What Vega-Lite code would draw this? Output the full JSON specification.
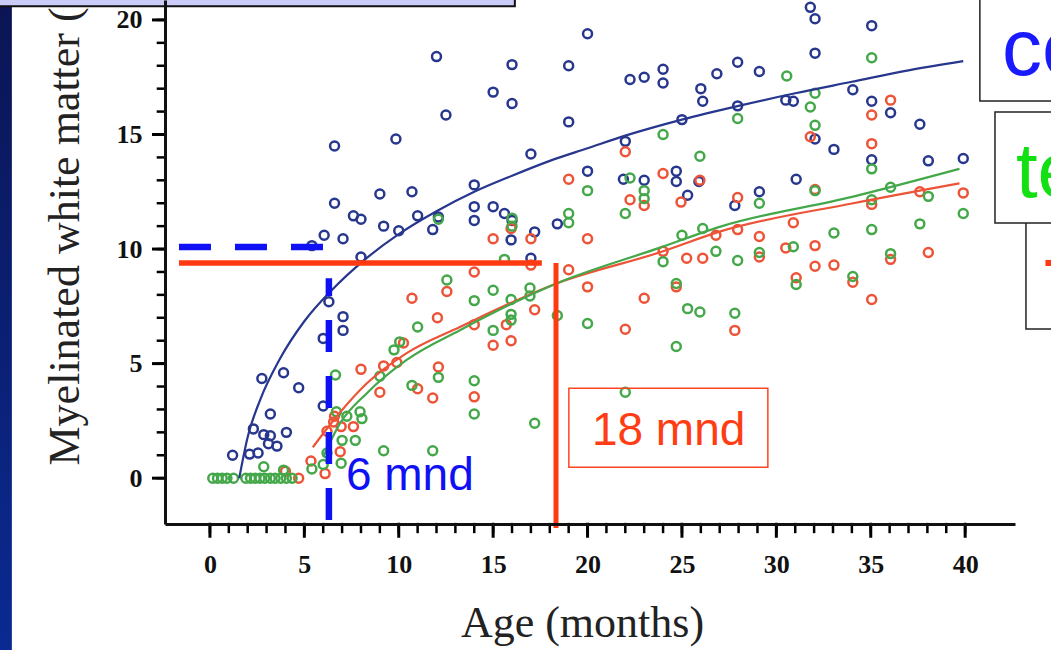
{
  "$schema": "https://vega.github.io/schema/vega-lite/v6.json",
  "width": 850,
  "height": 524,
  "autosize": {"type": "none"},
  "padding": {"left": 165, "top": 0, "right": 36, "bottom": 126},
  "background": "white",
  "config": {"view": {"stroke": null}},
  "resolve": {"axis": {"x": "independent", "y": "independent"}},
  "datasets": {
    "pts": [
      {"age":1.2,"mw":1.0,"group":"central"},{"age":2.1,"mw":1.05,"group":"central"},{"age":2.55,"mw":1.1,"group":"central"},{"age":2.3,"mw":2.15,"group":"central"},{"age":2.85,"mw":1.9,"group":"central"},{"age":3.2,"mw":1.85,"group":"central"},{"age":4.05,"mw":2.0,"group":"central"},{"age":3.1,"mw":1.5,"group":"central"},{"age":3.55,"mw":1.4,"group":"central"},{"age":3.2,"mw":2.8,"group":"central"},{"age":2.75,"mw":4.35,"group":"central"},{"age":3.9,"mw":4.6,"group":"central"},{"age":4.7,"mw":3.95,"group":"central"},{"age":6.0,"mw":3.15,"group":"central"},{"age":6.0,"mw":6.1,"group":"central"},{"age":7.05,"mw":6.45,"group":"central"},{"age":7.05,"mw":7.05,"group":"central"},{"age":6.3,"mw":7.7,"group":"central"},{"age":8.0,"mw":9.65,"group":"central"},{"age":5.4,"mw":10.15,"group":"central"},{"age":6.05,"mw":10.6,"group":"central"},{"age":7.05,"mw":10.45,"group":"central"},{"age":7.6,"mw":11.45,"group":"central"},{"age":8.0,"mw":11.3,"group":"central"},{"age":9.2,"mw":11.0,"group":"central"},{"age":10.0,"mw":10.8,"group":"central"},{"age":11.0,"mw":11.45,"group":"central"},{"age":11.8,"mw":10.85,"group":"central"},{"age":12.1,"mw":11.4,"group":"central"},{"age":6.6,"mw":12.0,"group":"central"},{"age":9.0,"mw":12.4,"group":"central"},{"age":10.7,"mw":12.5,"group":"central"},{"age":6.6,"mw":14.5,"group":"central"},{"age":9.85,"mw":14.8,"group":"central"},{"age":12.5,"mw":15.85,"group":"central"},{"age":12.0,"mw":18.4,"group":"central"},{"age":14.0,"mw":12.8,"group":"central"},{"age":14.0,"mw":11.85,"group":"central"},{"age":14.0,"mw":11.25,"group":"central"},{"age":15.0,"mw":11.85,"group":"central"},{"age":15.6,"mw":11.55,"group":"central"},{"age":16.0,"mw":11.25,"group":"central"},{"age":15.95,"mw":10.4,"group":"central"},{"age":17.2,"mw":10.75,"group":"central"},{"age":18.4,"mw":11.1,"group":"central"},{"age":17.0,"mw":9.6,"group":"central"},{"age":15.0,"mw":16.85,"group":"central"},{"age":16.0,"mw":16.35,"group":"central"},{"age":16.0,"mw":18.05,"group":"central"},{"age":17.0,"mw":14.15,"group":"central"},{"age":19.0,"mw":18.0,"group":"central"},{"age":19.0,"mw":15.55,"group":"central"},{"age":20.0,"mw":19.4,"group":"central"},{"age":20.0,"mw":13.4,"group":"central"},{"age":22.0,"mw":14.7,"group":"central"},{"age":21.9,"mw":13.05,"group":"central"},{"age":23.0,"mw":13.0,"group":"central"},{"age":22.25,"mw":17.4,"group":"central"},{"age":23.0,"mw":17.5,"group":"central"},{"age":24.0,"mw":17.85,"group":"central"},{"age":24.0,"mw":17.25,"group":"central"},{"age":24.7,"mw":13.4,"group":"central"},{"age":24.7,"mw":12.95,"group":"central"},{"age":25.3,"mw":12.35,"group":"central"},{"age":25.9,"mw":12.95,"group":"central"},{"age":25.0,"mw":15.65,"group":"central"},{"age":26.0,"mw":17.0,"group":"central"},{"age":26.1,"mw":16.45,"group":"central"},{"age":26.85,"mw":17.65,"group":"central"},{"age":27.95,"mw":18.15,"group":"central"},{"age":27.95,"mw":16.25,"group":"central"},{"age":27.8,"mw":11.9,"group":"central"},{"age":29.1,"mw":17.75,"group":"central"},{"age":29.1,"mw":12.5,"group":"central"},{"age":30.5,"mw":16.5,"group":"central"},{"age":30.9,"mw":16.45,"group":"central"},{"age":31.05,"mw":13.05,"group":"central"},{"age":31.8,"mw":20.55,"group":"central"},{"age":32.05,"mw":20.05,"group":"central"},{"age":32.05,"mw":18.55,"group":"central"},{"age":32.05,"mw":14.8,"group":"central"},{"age":33.05,"mw":14.35,"group":"central"},{"age":34.05,"mw":16.95,"group":"central"},{"age":35.05,"mw":19.75,"group":"central"},{"age":35.05,"mw":16.45,"group":"central"},{"age":35.05,"mw":13.9,"group":"central"},{"age":36.05,"mw":15.95,"group":"central"},{"age":37.6,"mw":15.45,"group":"central"},{"age":38.05,"mw":13.85,"group":"central"},{"age":39.9,"mw":13.95,"group":"central"},
      {"age":4.0,"mw":0.3,"group":"other"},{"age":4.7,"mw":0.0,"group":"other"},{"age":5.35,"mw":0.75,"group":"other"},{"age":6.1,"mw":0.2,"group":"other"},{"age":6.9,"mw":1.15,"group":"other"},{"age":6.2,"mw":2.05,"group":"other"},{"age":6.55,"mw":2.45,"group":"other"},{"age":6.95,"mw":2.25,"group":"other"},{"age":7.6,"mw":2.25,"group":"other"},{"age":6.6,"mw":2.7,"group":"other"},{"age":8.0,"mw":4.75,"group":"other"},{"age":9.2,"mw":4.9,"group":"other"},{"age":9.9,"mw":5.05,"group":"other"},{"age":10.25,"mw":5.9,"group":"other"},{"age":9.0,"mw":3.75,"group":"other"},{"age":11.0,"mw":3.9,"group":"other"},{"age":11.8,"mw":3.5,"group":"other"},{"age":12.1,"mw":4.85,"group":"other"},{"age":12.05,"mw":7.0,"group":"other"},{"age":10.7,"mw":7.85,"group":"other"},{"age":12.55,"mw":8.15,"group":"other"},{"age":14.0,"mw":9.0,"group":"other"},{"age":14.0,"mw":6.7,"group":"other"},{"age":14.0,"mw":3.55,"group":"other"},{"age":15.0,"mw":10.45,"group":"other"},{"age":15.0,"mw":5.8,"group":"other"},{"age":15.7,"mw":6.7,"group":"other"},{"age":15.95,"mw":10.9,"group":"other"},{"age":15.95,"mw":6.0,"group":"other"},{"age":17.0,"mw":10.45,"group":"other"},{"age":17.0,"mw":9.3,"group":"other"},{"age":17.2,"mw":7.35,"group":"other"},{"age":19.0,"mw":13.05,"group":"other"},{"age":19.0,"mw":9.1,"group":"other"},{"age":20.0,"mw":10.45,"group":"other"},{"age":20.0,"mw":8.35,"group":"other"},{"age":22.0,"mw":14.25,"group":"other"},{"age":22.0,"mw":6.5,"group":"other"},{"age":22.25,"mw":12.15,"group":"other"},{"age":23.0,"mw":11.9,"group":"other"},{"age":23.0,"mw":7.85,"group":"other"},{"age":24.0,"mw":13.3,"group":"other"},{"age":24.0,"mw":9.9,"group":"other"},{"age":24.7,"mw":8.35,"group":"other"},{"age":24.95,"mw":12.05,"group":"other"},{"age":25.25,"mw":9.6,"group":"other"},{"age":25.95,"mw":13.0,"group":"other"},{"age":26.1,"mw":9.6,"group":"other"},{"age":26.8,"mw":10.6,"group":"other"},{"age":27.8,"mw":6.45,"group":"other"},{"age":27.95,"mw":12.25,"group":"other"},{"age":27.95,"mw":10.85,"group":"other"},{"age":29.1,"mw":10.55,"group":"other"},{"age":29.1,"mw":9.65,"group":"other"},{"age":30.5,"mw":10.05,"group":"other"},{"age":30.9,"mw":11.15,"group":"other"},{"age":31.05,"mw":8.75,"group":"other"},{"age":31.8,"mw":14.9,"group":"other"},{"age":32.05,"mw":12.6,"group":"other"},{"age":32.05,"mw":10.15,"group":"other"},{"age":32.05,"mw":9.25,"group":"other"},{"age":33.05,"mw":9.3,"group":"other"},{"age":34.05,"mw":8.55,"group":"other"},{"age":35.05,"mw":15.85,"group":"other"},{"age":35.05,"mw":14.6,"group":"other"},{"age":35.05,"mw":11.95,"group":"other"},{"age":35.05,"mw":7.8,"group":"other"},{"age":36.05,"mw":16.5,"group":"other"},{"age":36.05,"mw":9.55,"group":"other"},{"age":37.6,"mw":12.5,"group":"other"},{"age":38.05,"mw":9.85,"group":"other"},{"age":39.9,"mw":12.45,"group":"other"},
      {"age":0.15,"mw":0,"group":"temporal"},{"age":0.4,"mw":0,"group":"temporal"},{"age":0.65,"mw":0,"group":"temporal"},{"age":0.9,"mw":0,"group":"temporal"},{"age":1.25,"mw":0,"group":"temporal"},{"age":1.9,"mw":0,"group":"temporal"},{"age":2.15,"mw":0,"group":"temporal"},{"age":2.4,"mw":0,"group":"temporal"},{"age":2.65,"mw":0,"group":"temporal"},{"age":2.9,"mw":0,"group":"temporal"},{"age":3.2,"mw":0,"group":"temporal"},{"age":3.45,"mw":0,"group":"temporal"},{"age":3.75,"mw":0,"group":"temporal"},{"age":4.05,"mw":0,"group":"temporal"},{"age":4.35,"mw":0,"group":"temporal"},{"age":2.85,"mw":0.5,"group":"temporal"},{"age":3.9,"mw":0.35,"group":"temporal"},{"age":5.4,"mw":0.4,"group":"temporal"},{"age":6.0,"mw":0.6,"group":"temporal"},{"age":6.95,"mw":0.65,"group":"temporal"},{"age":7.0,"mw":1.65,"group":"temporal"},{"age":7.7,"mw":1.65,"group":"temporal"},{"age":6.2,"mw":1.1,"group":"temporal"},{"age":9.2,"mw":1.2,"group":"temporal"},{"age":11.8,"mw":1.2,"group":"temporal"},{"age":6.7,"mw":2.9,"group":"temporal"},{"age":7.25,"mw":2.7,"group":"temporal"},{"age":7.95,"mw":2.9,"group":"temporal"},{"age":8.05,"mw":2.6,"group":"temporal"},{"age":6.65,"mw":4.5,"group":"temporal"},{"age":9.0,"mw":4.45,"group":"temporal"},{"age":10.7,"mw":4.05,"group":"temporal"},{"age":12.1,"mw":4.4,"group":"temporal"},{"age":9.75,"mw":5.6,"group":"temporal"},{"age":10.05,"mw":5.95,"group":"temporal"},{"age":11.0,"mw":6.6,"group":"temporal"},{"age":12.55,"mw":8.65,"group":"temporal"},{"age":12.1,"mw":11.3,"group":"temporal"},{"age":14.0,"mw":7.75,"group":"temporal"},{"age":14.0,"mw":4.25,"group":"temporal"},{"age":14.0,"mw":2.8,"group":"temporal"},{"age":15.0,"mw":8.2,"group":"temporal"},{"age":15.0,"mw":6.45,"group":"temporal"},{"age":15.6,"mw":9.55,"group":"temporal"},{"age":15.95,"mw":7.8,"group":"temporal"},{"age":15.95,"mw":7.15,"group":"temporal"},{"age":15.95,"mw":6.9,"group":"temporal"},{"age":16.0,"mw":11.35,"group":"temporal"},{"age":16.0,"mw":11.0,"group":"temporal"},{"age":16.95,"mw":8.3,"group":"temporal"},{"age":16.95,"mw":7.95,"group":"temporal"},{"age":17.2,"mw":2.4,"group":"temporal"},{"age":18.4,"mw":7.1,"group":"temporal"},{"age":19.0,"mw":11.55,"group":"temporal"},{"age":19.0,"mw":11.15,"group":"temporal"},{"age":20.0,"mw":12.55,"group":"temporal"},{"age":20.0,"mw":6.75,"group":"temporal"},{"age":22.0,"mw":11.55,"group":"temporal"},{"age":22.0,"mw":3.75,"group":"temporal"},{"age":22.25,"mw":13.1,"group":"temporal"},{"age":23.0,"mw":12.55,"group":"temporal"},{"age":23.0,"mw":12.2,"group":"temporal"},{"age":24.0,"mw":15.0,"group":"temporal"},{"age":24.0,"mw":9.45,"group":"temporal"},{"age":24.7,"mw":8.5,"group":"temporal"},{"age":24.7,"mw":5.75,"group":"temporal"},{"age":25.0,"mw":10.6,"group":"temporal"},{"age":25.3,"mw":7.4,"group":"temporal"},{"age":25.95,"mw":7.25,"group":"temporal"},{"age":25.95,"mw":14.05,"group":"temporal"},{"age":26.1,"mw":10.9,"group":"temporal"},{"age":26.8,"mw":9.9,"group":"temporal"},{"age":27.8,"mw":7.2,"group":"temporal"},{"age":27.95,"mw":15.7,"group":"temporal"},{"age":27.95,"mw":9.5,"group":"temporal"},{"age":29.1,"mw":12.0,"group":"temporal"},{"age":29.1,"mw":9.85,"group":"temporal"},{"age":30.55,"mw":17.55,"group":"temporal"},{"age":30.9,"mw":10.1,"group":"temporal"},{"age":31.05,"mw":8.45,"group":"temporal"},{"age":31.8,"mw":16.2,"group":"temporal"},{"age":32.05,"mw":16.8,"group":"temporal"},{"age":32.05,"mw":15.4,"group":"temporal"},{"age":32.05,"mw":12.55,"group":"temporal"},{"age":33.05,"mw":10.7,"group":"temporal"},{"age":34.05,"mw":8.8,"group":"temporal"},{"age":35.05,"mw":18.35,"group":"temporal"},{"age":35.05,"mw":13.5,"group":"temporal"},{"age":35.05,"mw":12.15,"group":"temporal"},{"age":35.05,"mw":10.85,"group":"temporal"},{"age":36.05,"mw":12.7,"group":"temporal"},{"age":36.05,"mw":9.8,"group":"temporal"},{"age":37.6,"mw":11.1,"group":"temporal"},{"age":38.05,"mw":12.3,"group":"temporal"},{"age":39.9,"mw":11.55,"group":"temporal"}
    ],
    "curves": [
      {"age":1.55,"mw":0.0,"group":"central"},{"age":2.0,"mw":1.8,"group":"central"},{"age":2.65,"mw":3.4,"group":"central"},{"age":3.7,"mw":5.2,"group":"central"},{"age":5.0,"mw":6.85,"group":"central"},{"age":6.5,"mw":8.25,"group":"central"},{"age":8.0,"mw":9.4,"group":"central"},{"age":10.0,"mw":10.65,"group":"central"},{"age":12.0,"mw":11.65,"group":"central"},{"age":14.0,"mw":12.5,"group":"central"},{"age":16.0,"mw":13.2,"group":"central"},{"age":18.0,"mw":13.85,"group":"central"},{"age":20.0,"mw":14.4,"group":"central"},{"age":22.0,"mw":14.95,"group":"central"},{"age":25.0,"mw":15.65,"group":"central"},{"age":28.0,"mw":16.25,"group":"central"},{"age":31.0,"mw":16.8,"group":"central"},{"age":34.0,"mw":17.3,"group":"central"},{"age":37.0,"mw":17.8,"group":"central"},{"age":39.9,"mw":18.2,"group":"central"},
      {"age":5.45,"mw":1.35,"group":"other"},{"age":6.7,"mw":2.68,"group":"other"},{"age":8.3,"mw":4.13,"group":"other"},{"age":10.4,"mw":5.45,"group":"other"},{"age":13.24,"mw":6.6,"group":"other"},{"age":18.36,"mw":8.5,"group":"other"},{"age":23.8,"mw":9.85,"group":"other"},{"age":27.0,"mw":10.76,"group":"other"},{"age":34.07,"mw":12.0,"group":"other"},{"age":39.7,"mw":12.87,"group":"other"},
      {"age":6.0,"mw":0.93,"group":"temporal"},{"age":6.89,"mw":2.39,"group":"temporal"},{"age":8.3,"mw":3.7,"group":"temporal"},{"age":10.4,"mw":5.15,"group":"temporal"},{"age":13.24,"mw":6.46,"group":"temporal"},{"age":18.36,"mw":8.5,"group":"temporal"},{"age":23.8,"mw":10.05,"group":"temporal"},{"age":27.0,"mw":10.97,"group":"temporal"},{"age":34.07,"mw":12.29,"group":"temporal"},{"age":39.7,"mw":13.5,"group":"temporal"}
    ],
    "xMinor": [{"v":0},{"v":1},{"v":2},{"v":3},{"v":4},{"v":5},{"v":6},{"v":7},{"v":8},{"v":9},{"v":10},{"v":11},{"v":12},{"v":13},{"v":14},{"v":15},{"v":16},{"v":17},{"v":18},{"v":19},{"v":20},{"v":21},{"v":22},{"v":23},{"v":24},{"v":25},{"v":26},{"v":27},{"v":28},{"v":29},{"v":30},{"v":31},{"v":32},{"v":33},{"v":34},{"v":35},{"v":36},{"v":37},{"v":38},{"v":39},{"v":40}],
    "xMajor": [{"v":0},{"v":5},{"v":10},{"v":15},{"v":20},{"v":25},{"v":30},{"v":35},{"v":40}],
    "yMinor": [{"v":0},{"v":1},{"v":2},{"v":3},{"v":4},{"v":5},{"v":6},{"v":7},{"v":8},{"v":9},{"v":10},{"v":11},{"v":12},{"v":13},{"v":14},{"v":15},{"v":16},{"v":17},{"v":18},{"v":19},{"v":20}],
    "yMajor": [{"v":0},{"v":5},{"v":10},{"v":15},{"v":20}]
  },
  "layer": [
    {
      "data": {"name": "pts"},
      "mark": {"type": "point", "filled": false, "size": 80, "strokeWidth": 2.5, "opacity": 1},
      "encoding": {
        "x": {
          "field": "age", "type": "quantitative",
          "scale": {"domain": [-2.38, 42.64], "nice": false, "zero": false},
          "axis": {
            "orient": "bottom", "zindex": 1,
            "values": [0, 5, 10, 15, 20, 25, 30, 35, 40],
            "labelOverlap": false,
            "ticks": false,
            "domainWidth": 3, "domainColor": "#111",
            "grid": false,
            "labelFont": "Liberation Serif", "labelFontSize": 26, "labelFontWeight": "bold", "labelColor": "#111",
            "labelPadding": 27,
            "title": "Age (months)", "titleFont": "Liberation Serif", "titleFontSize": 44, "titleFontWeight": "normal", "titleColor": "#222",
            "titleX": 417, "titleY": 112, "titleBaseline": "alphabetic"
          }
        },
        "y": {
          "field": "mw", "type": "quantitative",
          "scale": {"domain": [-2, 20.87], "nice": false, "zero": false},
          "axis": {
            "orient": "left", "zindex": 1,
            "values": [0, 5, 10, 15, 20],
            "labelOverlap": false,
            "ticks": false,
            "domainWidth": 3, "domainColor": "#111",
            "grid": false,
            "labelFont": "Liberation Serif", "labelFontSize": 26, "labelFontWeight": "bold", "labelColor": "#111",
            "labelPadding": 23,
            "title": "Myelinated white matter (", "titleFont": "Liberation Serif", "titleFontSize": 44, "titleFontWeight": "normal", "titleColor": "#222",
            "titleAngle": 270, "titleAlign": "left", "titleBaseline": "alphabetic",
            "titleX": -87, "titleY": 465
          }
        },
        "color": {
          "field": "group", "type": "nominal",
          "scale": {"domain": ["central", "temporal", "other"], "range": ["#27378d", "#44a84a", "#ec5337"]},
          "legend": null
        }
      }
    },
    {
      "data": {"name": "curves"},
      "mark": {"type": "line", "strokeWidth": 2.2, "interpolate": "monotone"},
      "encoding": {
        "x": {"field": "age", "type": "quantitative", "scale": {"domain": [-2.38, 42.64], "nice": false, "zero": false}, "axis": null},
        "y": {"field": "mw", "type": "quantitative", "scale": {"domain": [-2, 20.87], "nice": false, "zero": false}, "axis": null},
        "color": {"field": "group", "type": "nominal", "legend": null}
      }
    },
    {
      "data": {"name": "xMinor"},
      "mark": {"type": "rule", "color": "#000000", "strokeWidth": 2.5},
      "encoding": {"x": {"field": "v", "type": "quantitative", "axis": null}, "y": {"datum": -1.95, "axis": null}, "y2": {"datum": -2.4}}
    },
    {
      "data": {"name": "xMajor"},
      "mark": {"type": "rule", "color": "#000000", "strokeWidth": 3},
      "encoding": {"x": {"field": "v", "type": "quantitative", "axis": null}, "y": {"datum": -1.95, "axis": null}, "y2": {"datum": -2.6}}
    },
    {
      "data": {"name": "yMinor"},
      "mark": {"type": "rule", "color": "#000000", "strokeWidth": 2.5},
      "encoding": {"y": {"field": "v", "type": "quantitative", "axis": null}, "x": {"datum": -2.33, "axis": null}, "x2": {"datum": -2.82}}
    },
    {
      "data": {"name": "yMajor"},
      "mark": {"type": "rule", "color": "#000000", "strokeWidth": 3},
      "encoding": {"y": {"field": "v", "type": "quantitative", "axis": null}, "x": {"datum": -2.33, "axis": null}, "x2": {"datum": -3.07}}
    },
    {
      "data": {"values": [{}]},
      "mark": {"type": "rect", "color": {"gradient": "linear", "x1": 0, "y1": 0, "x2": 0, "y2": 1, "stops": [{"offset": 0, "color": "#0b1554"}, {"offset": 1, "color": "#0a2a92"}]}},
      "encoding": {"x": {"datum": -11.2, "axis": null}, "x2": {"datum": -10.49}, "y": {"datum": -7.6, "axis": null}, "y2": {"datum": 20.6}}
    },
    {
      "data": {"values": [{}]},
      "mark": {"type": "rect", "fill": "#cbcbf8", "stroke": "#111", "strokeWidth": 2},
      "encoding": {"x": {"datum": -11.5, "axis": null}, "x2": {"datum": 16.15}, "y": {"datum": 20.6, "axis": null}, "y2": {"datum": 22.5}}
    },
    {
      "data": {"values": [{}]},
      "mark": {"type": "rule", "color": "#ff3a12", "strokeWidth": 5.5},
      "encoding": {"x": {"datum": -1.64, "axis": null}, "x2": {"datum": 17.58}, "y": {"datum": 9.39, "axis": null}}
    },
    {
      "data": {"values": [{}]},
      "mark": {"type": "rule", "color": "#ff3a12", "strokeWidth": 5},
      "encoding": {"x": {"datum": 18.33, "axis": null}, "y": {"datum": -2.18, "axis": null}, "y2": {"datum": 9.39}}
    },
    {
      "data": {"values": [{}]},
      "mark": {"type": "rule", "color": "#1010f5", "strokeWidth": 6.5, "strokeDash": [32, 24]},
      "encoding": {"x": {"datum": -1.64, "axis": null}, "x2": {"datum": 5.99}, "y": {"datum": 10.09, "axis": null}}
    },
    {
      "data": {"values": [{}]},
      "mark": {"type": "rule", "color": "#1010f5", "strokeWidth": 6.5, "strokeDash": [32, 24]},
      "encoding": {"x": {"datum": 6.3, "axis": null}, "y": {"datum": -1.83, "axis": null}, "y2": {"datum": 8.73}}
    },
    {
      "data": {"values": [{}]},
      "mark": {"type": "text", "text": "6 mnd", "font": "Liberation Sans", "fontSize": 46, "color": "#1010f5", "align": "left", "baseline": "alphabetic"},
      "encoding": {"x": {"datum": 7.2, "axis": null}, "y": {"datum": -0.52, "axis": null}}
    },
    {
      "data": {"values": [{}]},
      "mark": {"type": "rect", "fillOpacity": 0, "stroke": "#ff4422", "strokeWidth": 1.5},
      "encoding": {"x": {"datum": 19.01, "axis": null}, "x2": {"datum": 29.55}, "y": {"datum": 0.48, "axis": null}, "y2": {"datum": 3.93}}
    },
    {
      "data": {"values": [{}]},
      "mark": {"type": "text", "text": "18 mnd", "font": "Liberation Sans", "fontSize": 46, "color": "#ff3d14", "align": "left", "baseline": "alphabetic"},
      "encoding": {"x": {"datum": 20.23, "axis": null}, "y": {"datum": 1.44, "axis": null}}
    },
    {
      "data": {"values": [{}]},
      "mark": {"type": "rect", "fill": "white", "stroke": "#222", "strokeWidth": 1.5},
      "encoding": {"x": {"datum": 43.22, "axis": null}, "x2": {"datum": 46}, "y": {"datum": 6.51, "axis": null}, "y2": {"datum": 11.6}}
    },
    {
      "data": {"values": [{}]},
      "mark": {"type": "rect", "fill": "white", "stroke": "#222", "strokeWidth": 1.5},
      "encoding": {"x": {"datum": 40.78, "axis": null}, "x2": {"datum": 46}, "y": {"datum": 16.46, "axis": null}, "y2": {"datum": 22.5}}
    },
    {
      "data": {"values": [{}]},
      "mark": {"type": "rect", "fill": "white", "stroke": "#222", "strokeWidth": 1.5},
      "encoding": {"x": {"datum": 41.58, "axis": null}, "x2": {"datum": 46}, "y": {"datum": 11.14, "axis": null}, "y2": {"datum": 15.98}}
    },
    {
      "data": {"values": [{}]},
      "mark": {"type": "text", "text": "ce", "font": "Liberation Sans", "fontSize": 80, "color": "#1a1aff", "align": "left", "baseline": "alphabetic"},
      "encoding": {"x": {"datum": 41.95, "axis": null}, "y": {"datum": 17.6, "axis": null}}
    },
    {
      "data": {"values": [{}]},
      "mark": {"type": "text", "text": "te", "font": "Liberation Sans", "fontSize": 78, "color": "#12e012", "align": "left", "baseline": "alphabetic"},
      "encoding": {"x": {"datum": 42.69, "axis": null}, "y": {"datum": 12.27, "axis": null}}
    },
    {
      "data": {"values": [{}]},
      "mark": {"type": "text", "text": "-", "font": "Liberation Sans", "fontSize": 78, "color": "#ff3a12", "align": "left", "baseline": "alphabetic"},
      "encoding": {"x": {"datum": 44.07, "axis": null}, "y": {"datum": 8.47, "axis": null}}
    }
  ]
}
